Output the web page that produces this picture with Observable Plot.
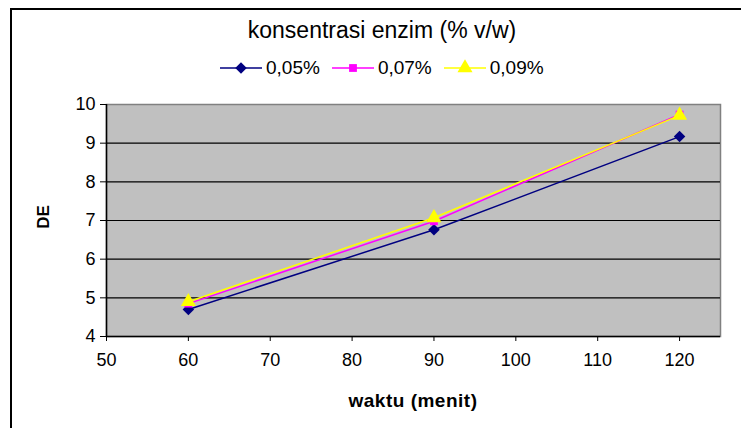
<!DOCTYPE html>
<html>
<head>
<meta charset="utf-8">
<script src="https://cdn.jsdelivr.net/npm/d3@7"></script>
<script src="https://cdn.jsdelivr.net/npm/@observablehq/plot@0.6"></script>
<style>
  html, body { margin: 0; padding: 0; background: #fff; }
  #wrap { position: relative; width: 741px; height: 428px; overflow: hidden; font-family: "Liberation Sans", Arial, sans-serif; }
  #frame { position: absolute; left: 10px; top: 8px; width: 760px; height: 440px; border-left: 2px solid #000; border-top: 2px solid #000; box-sizing: border-box; }
  #chart { position: absolute; left: 0; top: 0; }
  #title { position: absolute; left: 0; width: 764px; top: 17px; text-align: center; font-size: 23px; color: #000; white-space: nowrap; }
  #legend { position: absolute; left: 220px; top: 57px; display: flex; align-items: center; font-size: 19px; white-space: nowrap; }
  #legend .item { display: flex; align-items: center; margin-right: 12px; }
  #legend svg { display: block; margin-right: 4px; }
  #ylabel { position: absolute; left: 44px; top: 217px; transform: translate(-50%, -50%) rotate(-90deg); font-size: 17px; font-weight: bold; }
  #xlabel { position: absolute; left: 413px; top: 390px; transform: translateX(-50%); font-size: 19px; letter-spacing: 0.5px; font-weight: bold; white-space: nowrap; }
</style>
</head>
<body>
<div id="wrap">
  <div id="chart"></div>
  <div id="frame"></div>
  <div id="title"></div>
  <div id="legend"></div>
  <div id="ylabel"></div>
  <div id="xlabel"></div>
</div>
<script>
const titleText = "konsentrasi enzim (% v/w)";
const xLabel = "waktu (menit)";
const yLabel = "DE";
const seriesNames = ["0,05%", "0,07%", "0,09%"];
const seriesColors = ["#000080", "#FF00FF", "#FFFF00"];
const seriesSymbols = ["diamond2", "square", "triangle"];
const waktu = [60, 90, 120];
const de005 = [4.70, 6.76, 9.17];
const de007 = [4.85, 6.98, 9.74];
const de009 = [4.90, 7.07, 9.72];
const xTicks = [50, 60, 70, 80, 90, 100, 110, 120];
const yTicks = [4, 5, 6, 7, 8, 9, 10];
const gridValues = [5, 6, 7, 8, 9];

const seriesValues = [de005, de007, de009];
const rows = [];
seriesNames.forEach((name, i) => {
  waktu.forEach((w, j) => rows.push({series: name, waktu: w, de: seriesValues[i][j]}));
});

const symbolR = {"diamond2": 5.2, "square": 4.4, "triangle": 5.6};

const marks = [
  Plot.frame({fill: "#C0C0C0", stroke: "#808080", strokeWidth: 1.5}),
  Plot.ruleY(gridValues, {stroke: "#000", strokeWidth: 1.2}),
  Plot.ruleX([50], {stroke: "#000", strokeWidth: 1.5}),
  Plot.ruleY([4], {stroke: "#000", strokeWidth: 1.5}),
  Plot.axisY({ticks: yTicks, tickSize: 6, tickPadding: 5, fontSize: 18, label: null, tickFormat: d => String(d)}),
  Plot.axisX({ticks: xTicks, tickSize: 5, tickPadding: 12, fontSize: 18, label: null, tickFormat: d => String(d)})
];
seriesNames.forEach((name, i) => {
  const data = rows.filter(r => r.series === name);
  marks.push(Plot.line(data, {x: "waktu", y: "de", stroke: seriesColors[i], strokeWidth: 1.5}));
});
seriesNames.forEach((name, i) => {
  const data = rows.filter(r => r.series === name);
  marks.push(Plot.dot(data, {x: "waktu", y: "de", symbol: () => seriesSymbols[i], fill: seriesColors[i], stroke: "none", r: symbolR[seriesSymbols[i]]}));
});

const chart = Plot.plot({
  width: 741,
  height: 428,
  marginLeft: 106,
  marginRight: 21,
  marginTop: 104,
  marginBottom: 92,
  style: {fontFamily: "'Liberation Sans', Arial, sans-serif", color: "#000", background: "transparent"},
  x: {domain: [50, 125]},
  y: {domain: [4, 10]},
  symbol: {domain: seriesSymbols, range: seriesSymbols},
  marks
});
document.getElementById("chart").appendChild(chart);

document.getElementById("title").textContent = titleText;
document.getElementById("xlabel").textContent = xLabel;
document.getElementById("ylabel").textContent = yLabel;

const legend = document.getElementById("legend");
const symMap = {"diamond2": d3.symbolDiamond2, "square": d3.symbolSquare, "triangle": d3.symbolTriangle};
seriesNames.forEach((name, i) => {
  const item = document.createElement("div");
  item.className = "item";
  const s = d3.create("svg").attr("width", 42).attr("height", 20);
  s.append("line").attr("x1", 0).attr("x2", 42).attr("y1", 10).attr("y2", 10)
    .attr("stroke", seriesColors[i]).attr("stroke-width", 1.5);
  const r = symbolR[seriesSymbols[i]];
  s.append("path").attr("transform", "translate(21,10)")
    .attr("d", d3.symbol(symMap[seriesSymbols[i]], Math.PI * r * r)())
    .attr("fill", seriesColors[i]);
  item.appendChild(s.node());
  const t = document.createElement("span");
  t.textContent = name;
  item.appendChild(t);
  legend.appendChild(item);
});
</script>
</body>
</html>
